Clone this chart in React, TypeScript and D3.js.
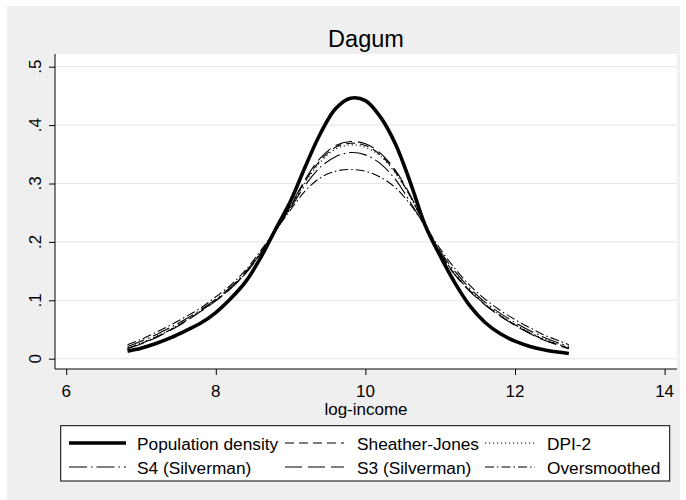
import React, { useEffect, useRef } from "react";
import * as d3 from "d3";

// Dagum: population density vs kernel estimates on log-income

const xGrid = [6.82, 7.0, 7.2, 7.4, 7.6, 7.8, 8.0, 8.2, 8.4, 8.6, 8.8, 9.0, 9.2, 9.4, 9.6, 9.8,
  10.0, 10.2, 10.4, 10.6, 10.8, 11.0, 11.2, 11.4, 11.6, 11.8, 12.0, 12.2, 12.4, 12.6, 12.72];

const population = [.013, .018, .026, .036, .048, .061, .079, .103, .132, .173, .222, .270, .330, .386, .428, .446,
  .442, .414, .368, .302, .228, .176, .129, .090, .062, .043, .030, .021, .015, .011, .009];
const sheatherJones = [.018, .026, .037, .050, .065, .082, .100, .121, .147, .181, .219, .261, .305, .340, .362, .369,
  .365, .349, .320, .278, .228, .181, .144, .116, .093, .074, .058, .044, .032, .023, .018];
const dpi2 = [.018, .027, .038, .051, .066, .082, .100, .121, .147, .181, .219, .260, .303, .337, .359, .366,
  .362, .347, .318, .277, .228, .182, .145, .117, .094, .075, .059, .045, .033, .024, .019];
const s4 = [.021, .030, .041, .054, .068, .084, .102, .123, .149, .182, .220, .258, .298, .328, .346, .353,
  .349, .334, .307, .268, .226, .184, .149, .120, .097, .078, .062, .048, .036, .026, .021];
const s3 = [.017, .025, .036, .049, .064, .081, .099, .120, .146, .180, .219, .262, .308, .344, .365, .372,
  .368, .352, .323, .280, .228, .180, .143, .115, .092, .073, .057, .043, .031, .022, .017];
const oversmoothed = [.024, .033, .045, .058, .072, .087, .106, .126, .152, .185, .220, .255, .288, .310, .321, .324,
  .321, .311, .293, .264, .227, .188, .154, .125, .102, .083, .067, .053, .040, .030, .024];

const seriesNames = ["Population density", "Sheather-Jones", "DPI-2", "S4 (Silverman)", "S3 (Silverman)", "Oversmoothed"];
const xTicks = [6, 8, 10, 12, 14];
const yTicks = [0, .1, .2, .3, .4, .5];
const yTickLabels = ["0", ".1", ".2", ".3", ".4", ".5"];

const FONT = "'Liberation Sans', Arial, Helvetica, sans-serif";

function App() {
  const ref = useRef<SVGSVGElement>(null);

  useEffect(() => {
    const svg = d3.select(ref.current);
    svg.selectAll("*").remove();

    const W = 686, H = 500;
    const plot = { left: 55, right: 677, top: 54, bottom: 369 };

    // outer background
    svg.append("rect").attr("width", W).attr("height", H).attr("fill", "#ffffff");
    svg.append("rect").attr("x", 7).attr("y", 6).attr("width", 673).attr("height", 494).attr("fill", "#efefef");
    svg.append("rect")
      .attr("x", plot.left).attr("y", plot.top)
      .attr("width", plot.right - plot.left).attr("height", plot.bottom - plot.top)
      .attr("fill", "#ffffff");

    const x = d3.scaleLinear().domain([6, 14]).range([66.2, 664.6]);
    const y = d3.scaleLinear().domain([0, .5]).range([358.7, 66.7]);

    // gridlines
    svg.append("g").selectAll("line").data(yTicks).join("line")
      .attr("x1", plot.left).attr("x2", plot.right)
      .attr("y1", d => y(d)).attr("y2", d => y(d))
      .attr("stroke", "#e4e4e4").attr("stroke-width", 1);

    // y axis
    const yAxis = svg.append("g")
      .attr("transform", `translate(${plot.left},0)`)
      .call(d3.axisLeft(y).tickValues(yTicks).tickSize(6).tickFormat(() => ""));
    yAxis.select(".domain").remove();
    yAxis.selectAll(".tick line").attr("stroke", "#000");
    svg.append("line")
      .attr("x1", plot.left).attr("x2", plot.left)
      .attr("y1", plot.top).attr("y2", plot.bottom)
      .attr("stroke", "#000").attr("stroke-width", 1);
    svg.append("g").selectAll("text").data(yTicks).join("text")
      .attr("transform", d => `translate(41,${y(d)}) rotate(-90)`)
      .attr("text-anchor", "middle")
      .attr("font-family", FONT).attr("font-size", 17)
      .text((d, i) => yTickLabels[i]);

    // x axis
    const xAxis = svg.append("g")
      .attr("transform", `translate(0,${plot.bottom})`)
      .call(d3.axisBottom(x).tickValues(xTicks).tickSize(6).tickFormat(() => ""));
    xAxis.select(".domain").remove();
    xAxis.selectAll(".tick line").attr("stroke", "#000");
    svg.append("line")
      .attr("x1", plot.left).attr("x2", plot.right)
      .attr("y1", plot.bottom).attr("y2", plot.bottom)
      .attr("stroke", "#000").attr("stroke-width", 1);
    svg.append("g").selectAll("text").data(xTicks).join("text")
      .attr("x", d => x(d)).attr("y", 397)
      .attr("text-anchor", "middle")
      .attr("font-family", FONT).attr("font-size", 17)
      .text(d => String(d));

    svg.append("text")
      .attr("x", (plot.left + plot.right) / 2).attr("y", 415)
      .attr("text-anchor", "middle")
      .attr("font-family", FONT).attr("font-size", 17)
      .text("log-income");

    // title
    svg.append("text")
      .attr("x", (plot.left + plot.right) / 2).attr("y", 47)
      .attr("text-anchor", "middle")
      .attr("font-family", FONT).attr("font-size", 23.5)
      .text("Dagum");

    // curves
    const allSeries = [population, sheatherJones, dpi2, s4, s3, oversmoothed];
    const dashes = [null, "9 5", "1.2 2.8", "18 4 1.5 4", "17 6", "9 3 1.5 3"];
    const widths = [3.6, 1.1, 1.1, 1.1, 1.1, 1.1];

    const line = d3.line<number>()
      .x((d, i) => x(xGrid[i]))
      .y(d => y(d))
      .curve(d3.curveCatmullRom.alpha(0.5));

    // draw kernels first, population on top
    [5, 4, 3, 2, 1, 0].forEach(k => {
      svg.append("path")
        .attr("d", line(allSeries[k]))
        .attr("fill", "none")
        .attr("stroke", "#000")
        .attr("stroke-width", widths[k])
        .attr("stroke-dasharray", dashes[k])
        .attr("stroke-linejoin", "round");
    });

    // legend
    const lg = svg.append("g");
    lg.append("rect")
      .attr("x", 60.7).attr("y", 425.7).attr("width", 609).attr("height", 55.3)
      .attr("fill", "#ffffff").attr("stroke", "#000").attr("stroke-width", 1);

    const colSample = [69, 285, 485];
    const sampleLen = [57, 59, 50];
    const colText = [137, 357, 547];
    const rowY = [443, 467];

    seriesNames.forEach((name, i) => {
      const r = Math.floor(i / 3), c = i % 3;
      lg.append("line")
        .attr("x1", colSample[c]).attr("x2", colSample[c] + sampleLen[c])
        .attr("y1", rowY[r]).attr("y2", rowY[r])
        .attr("stroke", "#000")
        .attr("stroke-width", widths[i])
        .attr("stroke-dasharray", dashes[i]);
      lg.append("text")
        .attr("x", colText[c]).attr("y", rowY[r] + 6.5)
        .attr("font-family", FONT).attr("font-size", 17.3)
        .text(name);
    });
  }, []);

  return (
    <svg ref={ref} width={686} height={500}
      style={{ position: "absolute", left: 0, top: 0, display: "block" }} />
  );
}

export default App;
